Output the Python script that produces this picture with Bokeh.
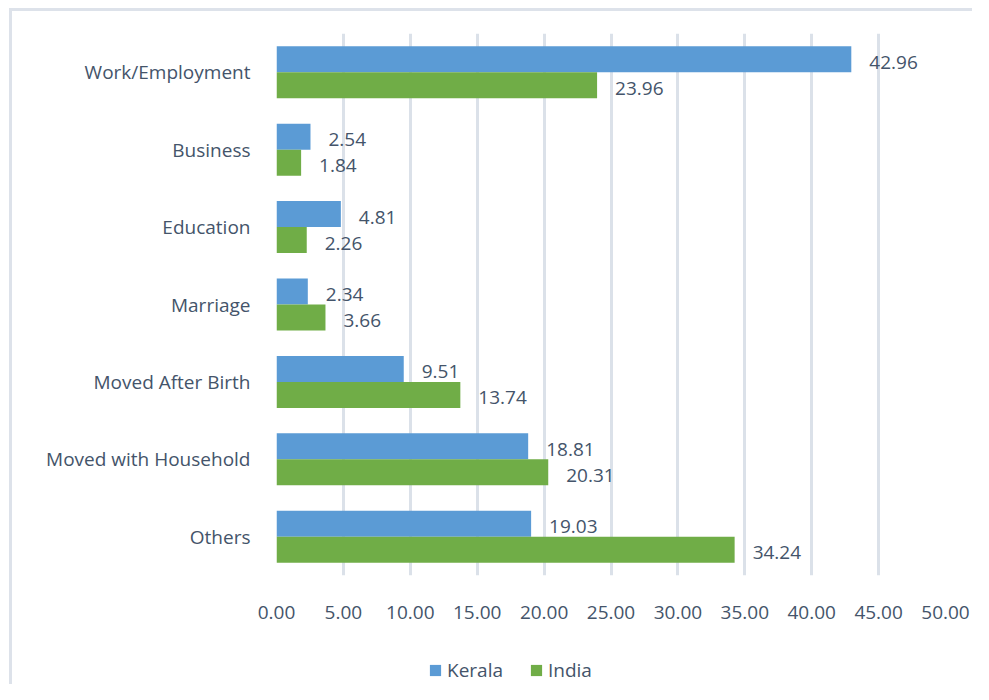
from bokeh.plotting import figure
from bokeh.layouts import column
from bokeh.models import (FactorRange, Range1d, Legend, LegendItem, ColumnDataSource,
                          NumeralTickFormatter, FixedTicker)
from bokeh.transform import dodge
from bokeh.core.properties import value
from bokeh.embed import file_html
from bokeh.resources import INLINE

# ---------------- data ----------------
categories = ["Work/Employment", "Business", "Education", "Marriage",
              "Moved After Birth", "Moved with Household", "Others"]
kerala = [42.96, 2.54, 4.81, 2.34, 9.51, 18.81, 19.03]
india = [23.96, 1.84, 2.26, 3.66, 13.74, 20.31, 34.24]
series_names = ["Kerala", "India"]
x_ticks = [0, 5, 10, 15, 20, 25, 30, 35, 40, 45, 50]

# ---------------- style ----------------
FONT = "Open Sans"
TEXT = "#44546A"
FS = "19px"
GRID = "#dbe1e9"
BORDER = "#dde2ea"
BLUE = "#5b9bd5"
GREEN = "#70ad47"
BAR_H = 0.336

source = ColumnDataSource(dict(
    cat=categories,
    kerala=kerala,
    india=india,
    klab=["%.2f" % v for v in kerala],
    ilab=["%.2f" % v for v in india],
))

p = figure(y_range=FactorRange(factors=categories[::-1]), x_range=Range1d(0, 50),
           width=960, height=620, output_backend="svg", toolbar_location=None,
           min_border_left=264, min_border_right=27, min_border_top=22,
           min_border_bottom=56)

rk = p.hbar(y=dodge("cat", BAR_H / 2, range=p.y_range), right="kerala", left=0,
            height=BAR_H, source=source, fill_color=BLUE, line_color=None)
ri = p.hbar(y=dodge("cat", -BAR_H / 2, range=p.y_range), right="india", left=0,
            height=BAR_H, source=source, fill_color=GREEN, line_color=None)

for field, lab, center in (("kerala", "klab", BAR_H / 2), ("india", "ilab", -BAR_H / 2)):
    p.text(x=field, y=dodge("cat", center, range=p.y_range), text=lab, source=source,
           x_offset=18, y_offset=3, text_baseline="middle", text_align="left",
           text_font=value(FONT), text_font_size=FS, text_color=TEXT)

# axes
p.xaxis.ticker = FixedTicker(ticks=x_ticks)
p.xaxis.formatter = NumeralTickFormatter(format="0.00")
for ax in (p.xaxis, p.yaxis):
    ax.axis_line_color = None
    ax.major_tick_line_color = None
    ax.minor_tick_line_color = None
    ax.major_tick_out = 0
    ax.minor_tick_out = 0
    ax.major_label_text_font = FONT
    ax.major_label_text_font_size = FS
    ax.major_label_text_color = TEXT
p.xaxis.major_label_standoff = 30
p.yaxis.major_label_standoff = 26

p.ygrid.grid_line_color = None
p.xgrid.grid_line_color = GRID
p.xgrid.grid_line_width = 3
p.outline_line_color = None

# legend strip (separate figure below the chart; its frame aligns with the chart's)
q = figure(width=960, height=53, output_backend="svg", toolbar_location=None,
           x_range=Range1d(0, 50), y_range=FactorRange(factors=categories[::-1]),
           x_axis_type=None, y_axis_type=None,
           min_border_left=0, min_border_right=0, min_border_top=0, min_border_bottom=0)
q.grid.visible = False
q.outline_line_color = None
lk = q.hbar(y="cat", right="kerala", height=BAR_H, source=source,
            fill_color=BLUE, line_color=None, visible=False)
li = q.hbar(y="cat", right="india", height=BAR_H, source=source,
            fill_color=GREEN, line_color=None, visible=False)

legend = Legend(items=[LegendItem(label=series_names[0], renderers=[lk]),
                       LegendItem(label=series_names[1], renderers=[li])],
                location=(152, 1), orientation="horizontal",
                border_line_color=None, background_fill_alpha=0,
                inactive_fill_alpha=0,
                padding=0, margin=0, glyph_width=14, glyph_height=14,
                label_standoff=5, spacing=26,
                label_text_font=FONT, label_text_font_size=FS,
                label_text_color=TEXT)
q.add_layout(legend)

layout = column(p, q, spacing=0,
                styles={"margin-left": "9px", "margin-top": "8px",
                        "border-left": "3px solid " + BORDER,
                        "border-top": "3px solid " + BORDER})

open("out.html", "w").write(file_html(layout, INLINE))
